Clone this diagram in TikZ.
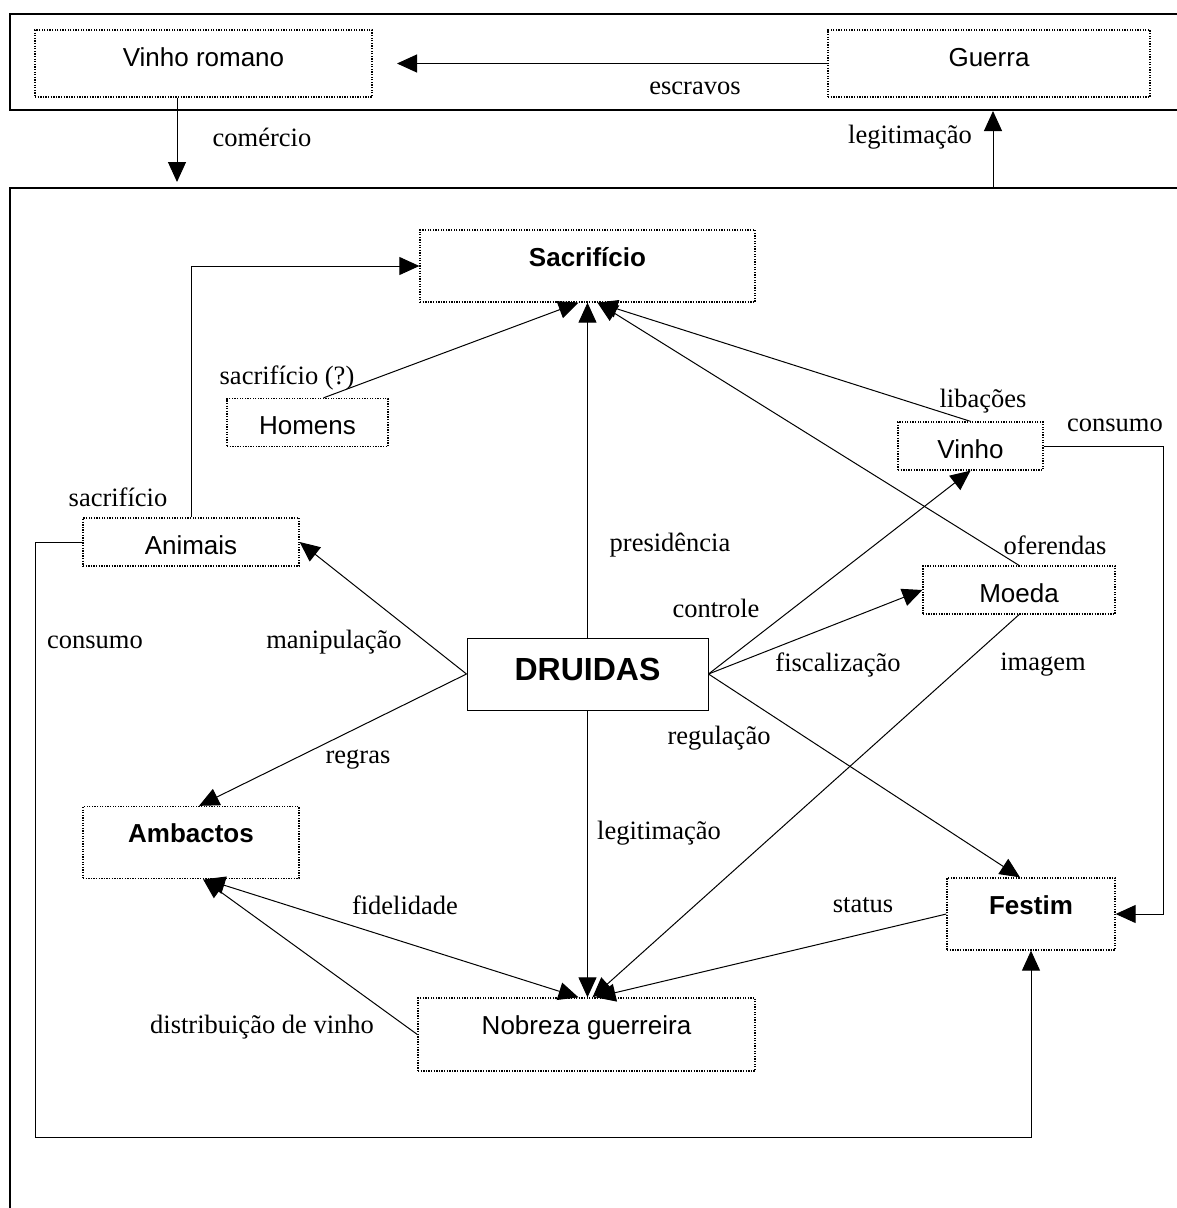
\documentclass[tikz,border=0pt]{standalone}
\usepackage{fontspec}
\setmainfont{Liberation Serif}
\setsansfont{Liberation Sans}
\usetikzlibrary{arrows.meta, calc}

\begin{document}
\begin{tikzpicture}[
  x=1pt, y=-1pt,
  >={Triangle[length=20pt, width=18pt]},
  every node/.style={inner sep=0pt},
  frame/.style = {line width=1.6pt},
  box/.style   = {draw, line width=1.3pt, dash pattern=on 1.3pt off 1.3pt,
                  font=\sffamily\fontsize{26}{30}\selectfont,
                  minimum height=48pt, text height=36pt, text depth=12pt},
  tall/.style  = {minimum height=72pt, text depth=36pt},
  key/.style   = {font=\sffamily\bfseries\fontsize{26}{30}\selectfont},
  lab/.style   = {font=\fontsize{26.5}{30}\selectfont},
  arr/.style   = {->, line width=1pt},
]
  \useasboundingbox (0,0) rectangle (1176,1208);
  % outer frames
  \draw[frame] (1190,14) -| (10,110) -- (1190,110);
  \draw[frame] (1190,188) -| (10,1220);

  % boxes
  \node[box, minimum width=337pt, minimum height=67pt, text depth=31pt] (vr) at (203.5,63.5) {Vinho romano};
  \node[box, minimum width=322pt, minimum height=67pt, text depth=31pt] (gu) at (989,63.5) {Guerra};
  \node[box, tall, key, minimum width=335pt] (sac) at (587.5,266) {Sacrifício};
  \node[box, minimum width=161pt] (hom) at (307.5,422.5) {Homens};
  \node[box, minimum width=216pt] (ani) at (191,542) {Animais};
  \node[box, minimum width=145pt] (vin) at (970.5,446) {Vinho};
  \node[box, minimum width=192pt] (moe) at (1019,590) {Moeda};
  \node[draw, line width=1pt, font=\sffamily\bfseries\fontsize{32}{36}\selectfont,
        minimum width=241pt, minimum height=72pt, text height=42pt, text depth=30pt] (dru) at (587.5,674) {DRUIDAS};
  \node[box, tall, key, minimum width=216pt] (amb) at (191,842.5) {Ambactos};
  \node[box, tall, key, minimum width=168pt] (fes) at (1031,914) {Festim};
  \node[box, minimum width=337pt, minimum height=73pt, text depth=37pt] (nob) at (586.5,1034.5) {Nobreza guerreira};

  % free ends
  \coordinate (esc) at (397,63.5);
  \coordinate (com) at (177,182);
  \coordinate (legA) at (993,188);
  \coordinate (legB) at (993,111);
  \coordinate (bl) at (35,1137);

  % connectors
  \draw[arr] (gu.west) -- (esc);
  \draw[arr] (vr.south -| com) -- (com);
  \draw[arr] (legA) -- (legB);
  \draw[arr] (ani.north) |- (sac.west);
  \draw[arr] ([xshift=16pt]hom.north) -- ([xshift=-9pt]sac.south);
  \foreach \a/\b in {dru.north/sac.south, dru.west/ani.east, dru.east/vin.south, dru.east/moe.west}
     \draw[arr] (\a) -- (\b);
  \draw[arr] (nob.west) -- ([xshift=12pt]amb.south);
  \draw[arr] (vin.north) -- ([xshift=10pt]sac.south);
  \draw[arr] (moe.north) -- ([xshift=10pt]sac.south);
  \draw[arr] (vin.east) -- ++(120,0) |- (fes.east);
  \draw[arr] (ani.west) -| (bl) -| (fes.south);
  \draw[arr] (dru.west) -- ([xshift=8pt]amb.north);
  \draw[arr] (dru.south) -- (dru.south |- nob.north);
  \draw[arr] (dru.east) -- ([xshift=-11pt]fes.north);
  \draw[arr] (moe.south) -- ([xshift=6pt]nob.north);
  \draw[arr] (fes.west) -- ([xshift=9pt]nob.north);
  \draw[arr, <->] ([xshift=14pt]amb.south) -- ([xshift=-8pt]nob.north);

  % labels
  \foreach \n/\p/\t in {l-esc/{695,88}/escravos, l-com/{262,137}/comércio,
      l-leg/{910,137}/legitimação, l-sq/{287,378}/sacrifício (?),
      l-sac/{118,497}/sacrifício, l-lib/{983,401}/libações,
      l-cv/{1115,425}/consumo, l-pre/{670,545}/presidência,
      l-ofe/{1055,545}/oferendas, l-con/{716,608}/controle,
      l-ca/{95,642}/consumo, l-man/{334,642}/manipulação,
      l-fis/{838,665}/fiscalização, l-ima/{1043,665}/imagem,
      l-reg/{719,738}/regulação, l-rgr/{358,760}/regras,
      l-lg2/{659,833}/legitimação, l-fid/{405,905}/fidelidade,
      l-sta/{863,905}/status, l-dis/{262,1027}/distribuição de vinho}
     \node[lab] (\n) at (\p) {\t};
\end{tikzpicture}
\end{document}
